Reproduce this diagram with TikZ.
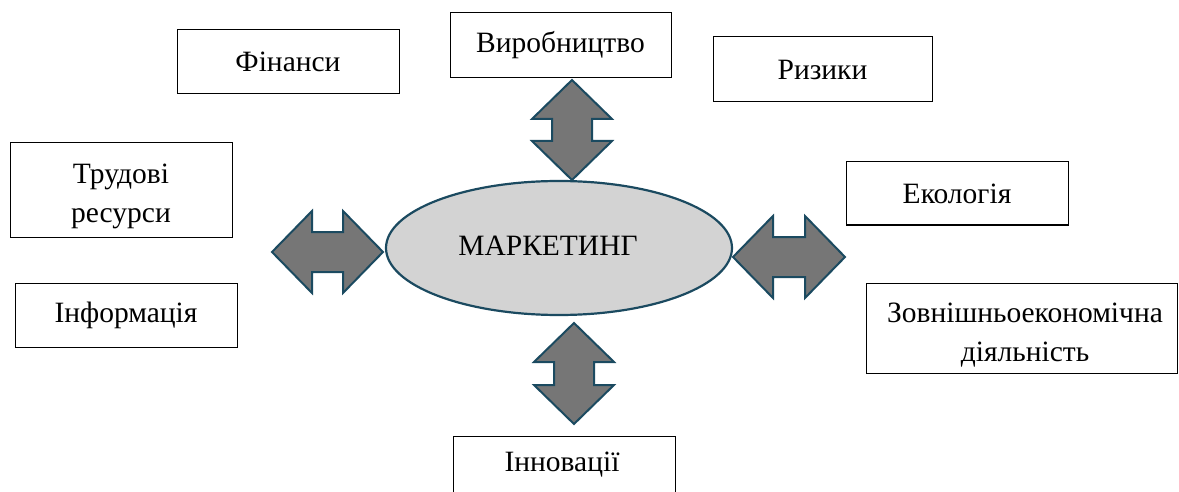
\documentclass[tikz,border=0pt]{standalone}
\usepackage{fontspec}
\setmainfont{Liberation Serif}
\usetikzlibrary{shapes.geometric}
\definecolor{arrowfill}{HTML}{767676}
\definecolor{arrowline}{HTML}{1B4A60}
\definecolor{ellfill}{HTML}{D3D3D3}
\tikzset{
  txt/.style={font=\fontsize{29.5}{39}\selectfont, align=center, inner sep=0pt},
  box/.style={draw=black, line width=1pt, fill=white, inner sep=0pt, txt},
  blockarrow/.style={draw=arrowline, fill=arrowfill, line width=2pt, line join=miter},
}
\newcommand\harrow[3]{% x1, x2, yc
  \draw[blockarrow] ({#1},{#3}) -- ({#1+40},{#3-41}) -- ({#1+40},{#3-20}) -- ({#2-40},{#3-20})
    -- ({#2-40},{#3-41}) -- ({#2},{#3}) -- ({#2-40},{#3+41}) -- ({#2-40},{#3+20})
    -- ({#1+40},{#3+20}) -- ({#1+40},{#3+41}) -- cycle;}
\newcommand\varrow[3]{% y1, y2, xc
  \draw[blockarrow] ({#3},{#1}) -- ({#3+40},{#1+39}) -- ({#3+20},{#1+39}) -- ({#3+20},{#2-39})
    -- ({#3+40},{#2-39}) -- ({#3},{#2}) -- ({#3-40},{#2-39}) -- ({#3-20},{#2-39})
    -- ({#3-20},{#1+39}) -- ({#3-40},{#1+39}) -- cycle;}
\begin{document}
\begin{tikzpicture}[x=1pt,y=-1pt]
\useasboundingbox (0,0) rectangle (1179,492);
\clip (0,0) rectangle (1179,492);
% boxes
\node[box, minimum width=222pt, minimum height=64pt] (fin) at (288,62) {Фінанси};
\node[box, minimum width=221pt, minimum height=65pt] (vyr) at (560.5,45.5) {Виробництво};
\node[box, minimum width=219pt, minimum height=65pt] (ryz) at (822.5,69.5) {Ризики};
\node[box, minimum width=222pt, minimum height=94pt] (trud) at (121,190) {};
\node[txt] (trudt) at (121,196) {Трудові\\ресурси};
\node[box, minimum width=222pt, minimum height=64pt] (inf) at (126,315) {Інформація};
\node[box, minimum width=222pt, minimum height=63pt] (eko) at (957,193.5) {Екологія};
\node[box, minimum width=311pt, minimum height=90pt] (zed) at (1021.5,328) {};
\node[txt] (zedt) at (1025,335) {Зовнішньоекономічна\\діяльність};
\node[box, minimum width=222pt, minimum height=110pt] (inn) at (564,491) {};
\node[txt] (innt) at (562,465) {Інновації};
% centre
\node[draw=arrowline, fill=ellfill, line width=2.2pt, ellipse, minimum width=346pt, minimum height=134pt,
  inner sep=0pt] (mkt) at (559,248) {};
\node[txt] (mktt) at (548,246) {МАРКЕТИНГ};
% block arrows
\harrow{272}{383}{252}
\harrow{733}{845}{257}
\varrow{80}{180}{572}
\varrow{323}{424}{574}
\end{tikzpicture}
\end{document}
